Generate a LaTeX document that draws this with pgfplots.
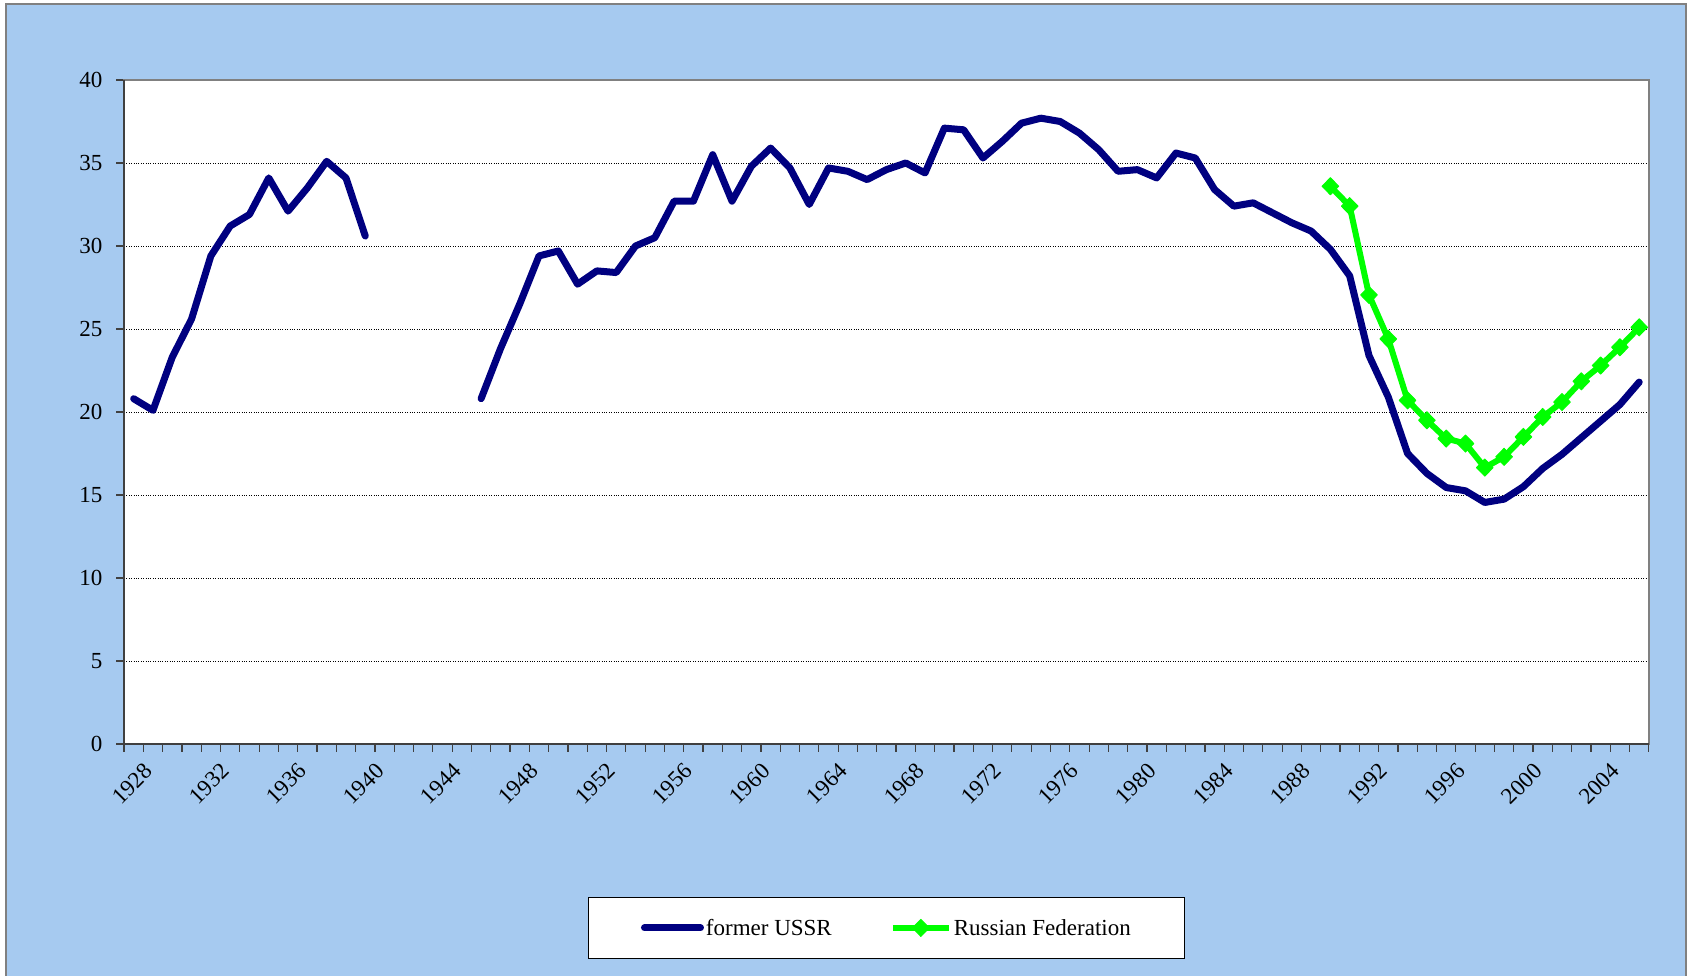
\documentclass[border=0pt]{standalone}
\usepackage{fontspec}
\setmainfont{Liberation Serif}
\usepackage{pgfplots}
\pgfplotsset{compat=1.18}
\definecolor{bgblue}{HTML}{A6CAF0}
\definecolor{ussr}{HTML}{000080}
\definecolor{rf}{HTML}{00FF00}
\definecolor{frame}{HTML}{808080}
\definecolor{axdark}{HTML}{404040}
\begin{document}
\begin{tikzpicture}[x=1pt,y=1pt]
\useasboundingbox (0,0) rectangle (1690,976);
\fill[bgblue] (6,0) rectangle (1686,972);
\draw[frame, line width=1.5pt] (6,0) -- (6,972) -- (1686,972) -- (1686,0);
\begin{axis}[
  at={(124pt,232pt)}, anchor=south west,
  width=1525pt, height=664pt, scale only axis,
  xmin=1927.5, xmax=2006.5, ymin=0, ymax=40,
  axis background/.style={fill=white},
  axis line style={draw=frame, line width=2pt},
  xtick={1928,1932,...,2004},
  minor xtick={1927.5,1928.5,...,2006.5},
  major x tick style={draw=none},
  minor x tick style={draw=axdark, line width=1.2pt},
  minor tick length=8pt,
  ytick={0,5,...,40},
  y tick style={draw=axdark, line width=1.2pt},
  major tick length=8pt,
  tick align=outside,
  xtick pos=bottom, ytick pos=left,
  ymajorgrids,
  grid style={black, dotted, line width=0.9pt},
  /pgf/number format/assume math mode=true,
  /pgf/number format/1000 sep={},
  tick label style={font=\fontsize{23pt}{27pt}\selectfont},
  xticklabel style={rotate=45, anchor=north east, xshift=3pt, yshift=-10pt},
  yticklabel style={xshift=-10pt},
  unbounded coords=jump,
  clip=false,
  legend columns=2,
  legend style={at={(0.5003,-0.277)}, anchor=center, draw=black, line width=1pt,
    fill=white, font=\fontsize{23pt}{27pt}\selectfont,
    inner xsep=52pt, inner ysep=19.5pt,
    /tikz/every even column/.append style={column sep=56pt}},
  legend cell align=left,
  legend image code/.code={%
    \draw[#1, mark repeat=2, mark phase=2] plot coordinates {(0pt,0pt) (28pt,0pt) (56pt,0pt)};},
]
\pgfplotsset{every legend/.append style={nodes={inner xsep=1.5pt}}}
\addplot[ussr, line width=7pt, line join=round, line cap=round, mark=none] coordinates {
(1928,20.8) (1929,20.1) (1930,23.3) (1931,25.6) (1932,29.4) (1933,31.2) (1934,31.9)
(1935,34.1) (1936,32.1) (1937,33.5) (1938,35.1) (1939,34.1) (1940,30.6)
(1941,nan) (1942,nan) (1943,nan) (1944,nan) (1945,nan)
(1946,20.8) (1947,23.8) (1948,26.5) (1949,29.4) (1950,29.7) (1951,27.7) (1952,28.5)
(1953,28.4) (1954,30.0) (1955,30.5) (1956,32.7) (1957,32.7) (1958,35.5) (1959,32.7)
(1960,34.8) (1961,35.9) (1962,34.7) (1963,32.5) (1964,34.7) (1965,34.5) (1966,34.0)
(1967,34.6) (1968,35.0) (1969,34.4) (1970,37.1) (1971,37.0) (1972,35.3) (1973,36.3)
(1974,37.4) (1975,37.7) (1976,37.5) (1977,36.8) (1978,35.8) (1979,34.5) (1980,34.6)
(1981,34.1) (1982,35.6) (1983,35.3) (1984,33.4) (1985,32.4) (1986,32.6) (1987,32.0)
(1988,31.4) (1989,30.9) (1990,29.8) (1991,28.2) (1992,23.4) (1993,20.9) (1994,17.5)
(1995,16.3) (1996,15.45) (1997,15.25) (1998,14.55) (1999,14.75) (2000,15.5)
(2001,16.6) (2002,17.45) (2003,18.45) (2004,19.45) (2005,20.45) (2006,21.8)
};
\addlegendentry{former USSR}
\addplot[rf, line width=6pt, line join=round, mark=diamond*, mark size=8.5pt,
  mark options={solid, line width=1pt, fill=rf, draw=rf, xscale=1.3}] coordinates {
(1990,33.6) (1991,32.4) (1992,27.05) (1993,24.4) (1994,20.7) (1995,19.5) (1996,18.4)
(1997,18.1) (1998,16.65) (1999,17.3) (2000,18.5) (2001,19.7) (2002,20.6) (2003,21.85)
(2004,22.8) (2005,23.9) (2006,25.1)
};
\addlegendentry{Russian Federation}
\draw[axdark, line width=2pt] (rel axis cs:0,1) -- (rel axis cs:0,0) -- (rel axis cs:1,0);
\end{axis}
\end{tikzpicture}
\end{document}
